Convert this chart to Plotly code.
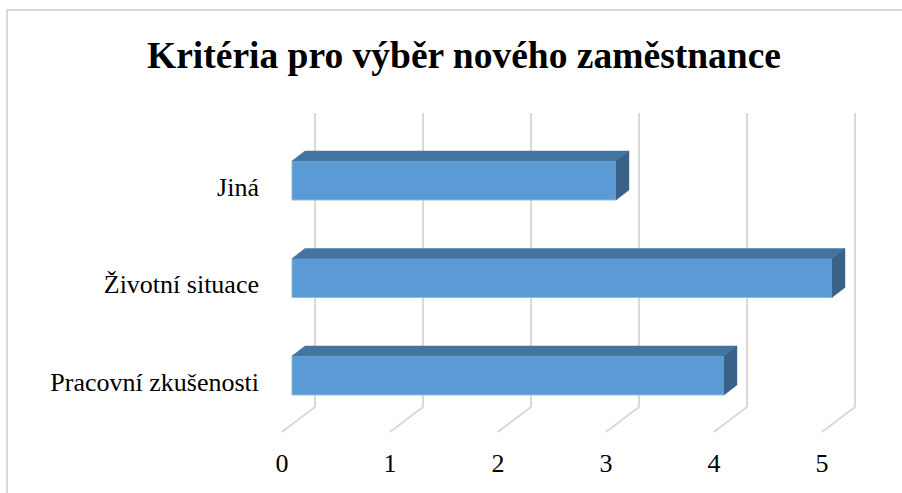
import plotly.graph_objects as go

# ---- data ----
CATEGORIES = ["Pracovní zkušenosti", "Životní situace", "Jiná"]
VALUES = [4, 5, 3]
X_TICKS = [0, 1, 2, 3, 4, 5]
TITLE = "Kritéria pro výběr nového zaměstnance"

# ---- style constants ----
FONT = "Times New Roman, Liberation Serif, serif"
FRONT = "#5b9bd5"
TOP = "#4474a0"
SIDE = "#3a6289"
GRID = "#d9d9d9"
BAR_W = 0.4          # bar thickness (category units)
DEPTH_X = 0.12       # 3D depth in x data units
DEPTH_Y = 0.1026     # 3D depth in y units
BACK_DX = 0.213      # back-wall offset of gridlines
FRONT_DX = -0.094    # front floor offset
WALL_TOP = 2.692
WALL_BOTTOM = -0.323
FLOOR_FRONT = -0.579

ypos = list(range(len(CATEGORIES)))

fig = go.Figure()

# gridlines on back wall + floor diagonals (drawn below the bars)
shapes = []
for t in X_TICKS:
    shapes.append(dict(type="path", xref="x", yref="y", layer="below",
                       path=f"M{t + BACK_DX},{WALL_TOP} L{t + BACK_DX},{WALL_BOTTOM} L{t + FRONT_DX},{FLOOR_FRONT}",
                       line=dict(color=GRID, width=2)))

# front faces
fig.add_trace(go.Bar(x=VALUES, y=ypos, orientation="h", width=BAR_W,
                     marker=dict(color=FRONT, line=dict(color="#8db9e4", width=1)),
                     showlegend=False))

# top & side faces
for y, v in zip(ypos, VALUES):
    top = y + BAR_W / 2
    bot = y - BAR_W / 2
    fig.add_trace(go.Scatter(
        x=[0, v, v + DEPTH_X, DEPTH_X, 0],
        y=[top, top, top + DEPTH_Y, top + DEPTH_Y, top],
        fill="toself", fillcolor=TOP, mode="lines",
        line=dict(color=TOP, width=0.5), hoverinfo="skip", showlegend=False))
    fig.add_trace(go.Scatter(
        x=[v, v + DEPTH_X, v + DEPTH_X, v, v],
        y=[bot, bot + DEPTH_Y, top + DEPTH_Y, top, bot],
        fill="toself", fillcolor=SIDE, mode="lines",
        line=dict(color=SIDE, width=0.5), hoverinfo="skip", showlegend=False))

L, R, T, B = 270, 880, 100, 445
shapes.append(dict(type="rect", xref="paper", yref="paper",
                   x0=(7 - L) / (R - L), x1=1.2, y0=-0.3, y1=(B - 10) / (B - T),
                   line=dict(color=GRID, width=2), fillcolor="rgba(0,0,0,0)", layer="below"))

fig.update_layout(
    width=902, height=493,
    margin=dict(l=L, r=902 - R, t=T, b=493 - B, autoexpand=False),
    paper_bgcolor="white", plot_bgcolor="white",
    font=dict(family=FONT, color="black", size=26),
    title=dict(text="<b>" + TITLE + "</b>", x=464 / 902, xref="container",
               xanchor="center", y=1 - 55 / 493, yanchor="middle",
               font=dict(family=FONT, size=37.5, color="black")),
    xaxis=dict(range=[(L - 292) / 108, (R - 292) / 108], tickvals=X_TICKS,
               showgrid=False, zeroline=False, showline=False, ticks="", automargin=False,
               tickfont=dict(size=26), ticklabelshift=-10, ticklabelstandoff=0),
    yaxis=dict(range=[(375.5 - B) / 97.5, (375.5 - T) / 97.5], tickvals=ypos,
               ticktext=CATEGORIES, showgrid=False, zeroline=False, showline=False,
               automargin=False,
               ticks="", tickfont=dict(size=26), ticklabelshift=6, ticklabelstandoff=10),
    shapes=shapes,
)

fig.write_html("out.html", config={"displayModeBar": False},
               post_script="document.body.style.margin='0';")
